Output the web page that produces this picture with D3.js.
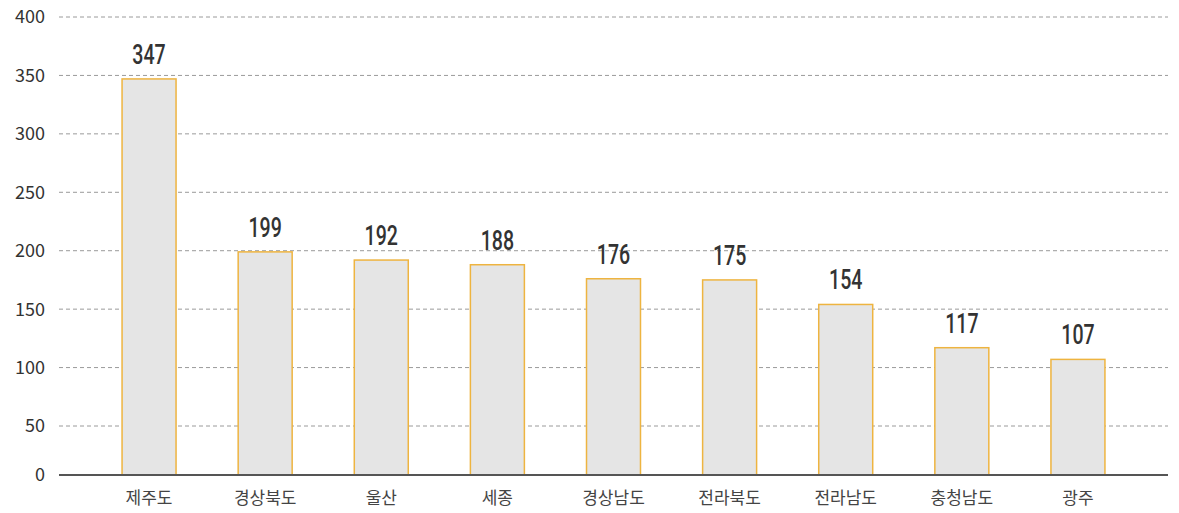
<!DOCTYPE html>
<html><head><meta charset="utf-8">
<script src="https://cdn.jsdelivr.net/npm/d3@7"></script>
<style>body{margin:0;background:#fff}svg{display:block}</style>
</head><body>
<script>
const categories = ["제주도","경상북도","울산","세종","경상남도","전라북도","전라남도","충청남도","광주"];
const values = [347,199,192,188,176,175,154,117,107];
const yTicks = [0,50,100,150,200,250,300,350,400];

const W = 1179, H = 513;
const svg = d3.select("body").append("svg").attr("width", W).attr("height", H);

const x = d3.scaleBand().domain(categories).range([91, 1136]).paddingInner(0.535).paddingOuter(0.2675);
const y = d3.scaleLinear().domain([0, 50, 400]).range([475, 426, 17]);

// gridlines
svg.append("g").selectAll("line").data(yTicks.filter(d => d > 0)).join("line")
  .attr("x1", 59).attr("x2", 1168)
  .attr("y1", d => y(d)).attr("y2", d => y(d))
  .attr("stroke", "#9a9a9a").attr("stroke-width", 1).attr("stroke-dasharray", "4,3");

// y labels
svg.append("g").selectAll("text").data(yTicks).join("text")
  .attr("x", 45).attr("y", d => y(d)).attr("dy", "0.36em")
  .attr("text-anchor", "end")
  .attr("font-family", "'Noto Sans CJK KR', 'Noto Sans', sans-serif")
  .attr("font-size", 18).attr("fill", "#333")
  .text(d => d);

// bars
svg.append("g").selectAll("rect").data(values).join("rect")
  .attr("x", (d, i) => x(categories[i]))
  .attr("width", x.bandwidth())
  .attr("y", d => y(d))
  .attr("height", d => y(0) - y(d))
  .attr("fill", "#e5e5e5")
  .attr("stroke", "#eeb440").attr("stroke-width", 1.5);

// axis line
svg.append("line").attr("x1", 59).attr("x2", 1168).attr("y1", y(0)).attr("y2", y(0))
  .attr("stroke", "#555").attr("stroke-width", 2);

// value labels (condensed)
svg.append("g").selectAll("text").data(values).join("text")
  .attr("transform", (d, i) => `translate(${x(categories[i]) + x.bandwidth() / 2},${y(d) - 15}) scale(0.7,1)`)
  .attr("text-anchor", "middle")
  .attr("font-family", "Roboto, sans-serif")
  .attr("font-weight", 500)
  .attr("font-size", 28).attr("fill", "#333")
  .text(d => d);

// x labels
svg.append("g").selectAll("text").data(categories).join("text")
  .attr("x", d => x(d) + x.bandwidth() / 2)
  .attr("y", 498).attr("dy", "0.35em")
  .attr("text-anchor", "middle")
  .attr("font-family", "'Noto Sans CJK KR', sans-serif")
  .attr("font-size", 17).attr("fill", "#444")
  .text(d => d);
</script>
</body></html>
